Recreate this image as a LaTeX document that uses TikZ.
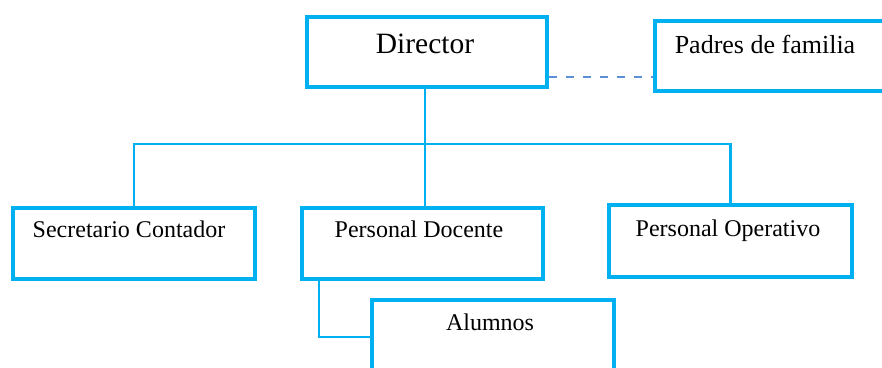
\documentclass[tikz,border=0pt]{standalone}
\usepackage{fontspec}
\setmainfont{Liberation Serif}
\definecolor{boxcyan}{HTML}{00B0F0}
\definecolor{dashblue}{HTML}{5B8FD6}
\begin{document}
\begin{tikzpicture}[x=1pt,y=-1pt,
  orgbox/.style={draw=boxcyan, line width=4pt, rectangle, inner sep=0pt, anchor=north west},
  lbl/.style={anchor=base, inner sep=0pt, font=\fontsize{24}{28}\selectfont},
  conn/.style={draw=boxcyan, line width=2.5pt},
  dashconn/.style={draw=dashblue, line width=1.5pt, dash pattern=on 8pt off 9pt}]
\useasboundingbox (0,0) rectangle (882,367);
\clip (0,0) rectangle (882,367);
% boxes
\node[orgbox, minimum width=240pt, minimum height=70pt] (dir) at (305,15) {};
\node[orgbox, minimum width=247pt, minimum height=70pt] (pad) at (653,19) {};
\node[orgbox, minimum width=242pt, minimum height=71pt] (sec) at (11,206) {};
\node[orgbox, minimum width=241pt, minimum height=71pt] (doc) at (300,206) {};
\node[orgbox, minimum width=243pt, minimum height=72pt] (op) at (607,203) {};
\node[orgbox, minimum width=242pt, minimum height=74pt] (alu) at (370,298) {};
% labels
\node[lbl, font=\fontsize{29.5}{34}\selectfont] (tdir) at (425,53) {Director};
\node[lbl, font=\fontsize{26}{30}\selectfont] (tpad) at (765,53) {Padres de familia};
\node[lbl] (tsec) at (129,237) {Secretario Contador};
\node[lbl] (tdoc) at (419,237) {Personal Docente};
\node[lbl] (top) at (728,236) {Personal Operativo};
\node[lbl] (talu) at (490,330) {Alumnos};
% connectors
\coordinate (bus) at (425,144);
\draw[conn] (dir.south -| bus) -- (bus);
\draw[conn] (sec.north) |- (bus) -| (op.north);
\draw[conn] (bus) -- (bus |- doc.north);
\draw[conn] ([xshift=19pt]doc.south west) |- (alu.west);
\draw[dashconn] ([yshift=-25pt]dir.east) -- ([yshift=-25pt]dir.east -| pad.west);
\end{tikzpicture}
\end{document}
